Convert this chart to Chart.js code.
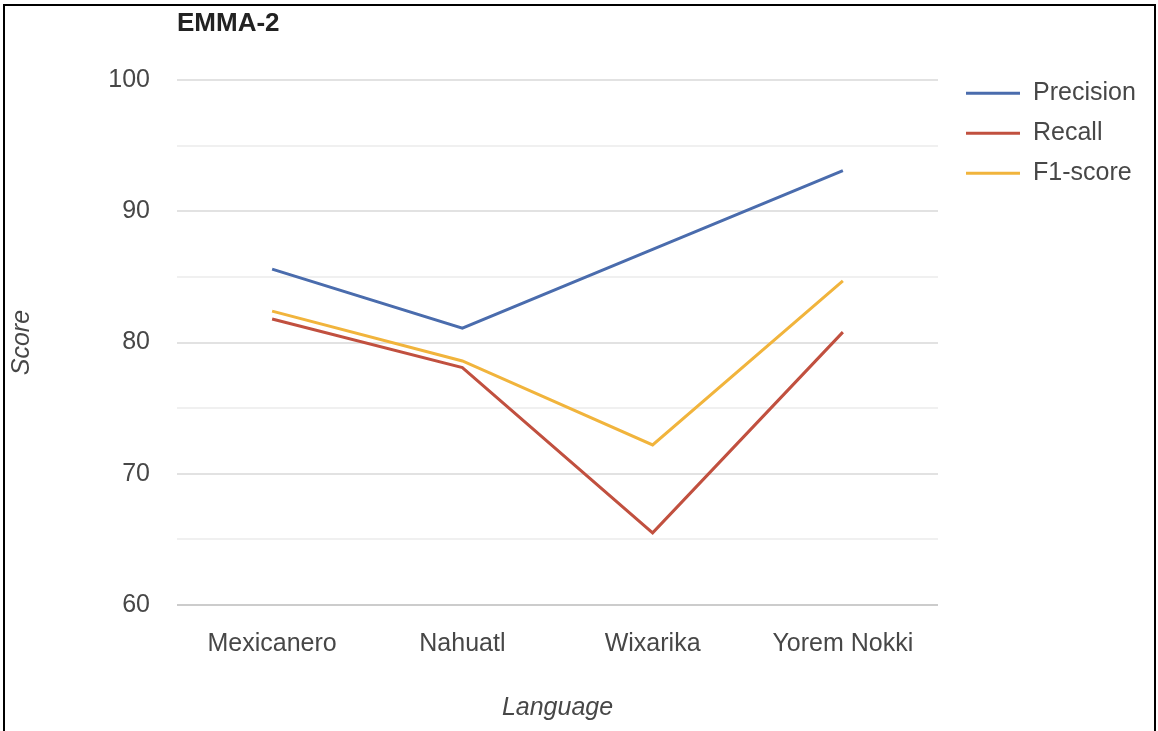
<!DOCTYPE html>
<html>
<head>
<meta charset="utf-8">
<script src="https://cdn.jsdelivr.net/npm/chart.js@4/dist/chart.umd.min.js"></script>
<style>
    body { margin: 0; background: #fff; }
    #wrap { position: relative; width: 1158px; height: 731px; }
    #frame {
        position: absolute; left: 3px; top: 4px; width: 1149px; height: 730px;
        border: 2px solid #000; border-bottom: none; pointer-events: none;
    }
</style>
</head>
<body>
<div id="wrap">
    <canvas id="emma-chart" width="1158" height="731"></canvas>
    <div id="frame"></div>
</div>
<script>
const idiomas = ['Mexicanero', 'Nahuatl', 'Wixarika', 'Yorem Nokki'];
const precision = [85.6, 81.1, 87.1, 93.1];
const recall = [81.8, 78.1, 65.5, 80.8];
const f1score = [82.4, 78.6, 72.2, 84.7];
const yTicks = [60, 70, 80, 90, 100];

const fuente = "'Liberation Sans', Arial, sans-serif";
const gris = '#474747';

// leyenda a la derecha: linea corta + nombre de la serie
const leyendaLineas = {
    id: 'leyendaLineas',
    afterDraw(chart) {
        const ctx = chart.ctx;
        const x0 = chart.chartArea.right + 28;
        ctx.save();
        ctx.font = '25px ' + fuente;
        ctx.textBaseline = 'middle';
        chart.data.datasets.forEach((ds, i) => {
            const y = chart.chartArea.top + 13 + i * 40;
            ctx.strokeStyle = ds.borderColor;
            ctx.lineWidth = 3;
            ctx.beginPath();
            ctx.moveTo(x0, y);
            ctx.lineTo(x0 + 54, y);
            ctx.stroke();
            ctx.fillStyle = gris;
            ctx.fillText(ds.label, x0 + 67, y);
        });
        ctx.restore();
    }
};

const ctx = document.getElementById('emma-chart').getContext('2d');
const chart = new Chart(ctx, {
    type: 'line',
    data: {
        labels: idiomas,
        datasets: [
            { label: 'Precision', data: precision, borderColor: '#4a6cad' },
            { label: 'Recall', data: recall, borderColor: '#c1503f' },
            { label: 'F1-score', data: f1score, borderColor: '#f1b43c' }
        ]
    },
    options: {
        responsive: false,
        animation: false,
        layout: { padding: { top: 4, left: 6, right: 220, bottom: 0 } },
        elements: {
            line: { borderWidth: 3, tension: 0 },
            point: { radius: 0, hoverRadius: 0 }
        },
        plugins: {
            legend: { display: false },
            tooltip: { enabled: false },
            title: {
                display: true,
                text: 'EMMA-2',
                align: 'start',
                fullSize: false,
                color: '#222',
                font: { family: fuente, size: 26, weight: 'bold' },
                padding: { top: 4, bottom: 41 }
            }
        },
        scales: {
            x: {
                offset: true,
                grid: { display: false },
                border: { display: false },
                ticks: { color: gris, font: { family: fuente, size: 25 }, padding: 16, maxRotation: 0 },
                title: {
                    display: true, text: 'Language', color: gris,
                    font: { family: fuente, size: 25, style: 'italic' },
                    padding: { top: 0, bottom: 8 }
                },
                afterFit(scale) { scale.height = 126; }
            },
            y: {
                min: 60,
                max: 100,
                border: { display: false },
                grid: {
                    drawTicks: false,
                    lineWidth: 2,
                    color: c => c.tick.value === 60 ? '#cccccc' : (c.tick.value % 10 === 0 ? '#e2e2e2' : '#f0f0f0')
                },
                ticks: {
                    stepSize: 5,
                    padding: 27,
                    color: gris,
                    font: { family: fuente, size: 25 },
                    callback: v => yTicks.includes(v) ? v : ''
                },
                title: {
                    display: true, text: 'Score', color: gris,
                    font: { family: fuente, size: 25, style: 'italic' },
                    padding: { top: 1, bottom: 0 }
                },
                afterFit(scale) { scale.width = 171; }
            }
        }
    },
    plugins: [leyendaLineas]
});
</script>
</body>
</html>
